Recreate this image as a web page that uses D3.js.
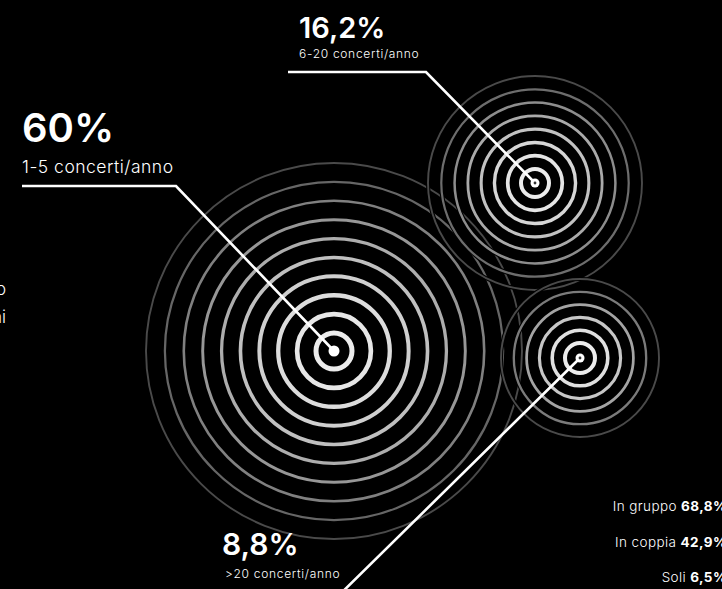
<!DOCTYPE html>
<html>
<head>
<meta charset="utf-8">
<script src="https://cdn.jsdelivr.net/npm/d3@7"></script>
<style>
  html, body { margin: 0; padding: 0; background: #000; overflow: hidden; }
  svg { display: block; font-family: Inter, "Noto Sans", sans-serif; }
  .big  { fill: #fff; font-weight: 600; }
  .sub  { fill: #fff; font-weight: 300; }
  .side { fill: #fff; font-weight: 300; font-size: 13.5px; letter-spacing: 0.4px; }
  .side tspan.val { font-weight: 700; }
</style>
</head>
<body>
<div id="chart"></div>
<script>
// ── Data ─────────────────────────────────────────────────────────────────────
const shares     = ['60%', '16,2%', '8,8%'];
const frequency  = ['1-5 concerti/anno', '6-20 concerti/anno', '>20 concerti/anno'];
const ringCounts = [10, 8, 6];

const companyLabels = ['In gruppo', 'In coppia', 'Soli'];
const companyValues = ['68,8%', '42,9%', '6,5%'];

// text cut off at the left edge of the original
const introLines = ['Quanti concerti all\'anno', 'vedono gli italiani'];

// ── Layout (not data) ────────────────────────────────────────────────────────
const W = 722, H = 589;
const groups = [
  { cx: 334, cy: 351, rIn: 18, rOut: 188, dot: 5.5,
    label: { x: 22, y: 142, size: 40 }, sub: { y: 173, size: 17.5, ls: 0.5 },
    leader: [[22, 186], [176, 186]] },
  { cx: 535, cy: 183, rIn: 14, rOut: 107, dot: 4.5,
    label: { x: 299, y: 38, size: 29 }, sub: { y: 58, size: 12, ls: 0.7 },
    leader: [[288, 72], [426, 72]] },
  { cx: 580, cy: 358, rIn: 15, rOut: 79, dot: 4.5,
    label: { x: 222, y: 555, size: 30 }, sub: { y: 578, size: 12, ls: 0.7 },
    leader: [[290, 645], [324, 610]] }
];

const svg = d3.select('#chart').append('svg')
  .attr('width', W).attr('height', H);

svg.append('rect').attr('width', W).attr('height', H).attr('fill', '#000');

// ── Rings ────────────────────────────────────────────────────────────────────
const ringsG = svg.append('g');
groups.forEach((g, gi) => {
  const n = ringCounts[gi];
  const rScale = d3.scaleLinear().domain([0, n - 1]).range([g.rIn, g.rOut]);
  const wScale = d3.scaleLinear().domain([0, n - 1]).range([gi === 0 ? 5 : 4, 1.9]);
  // brightness falls slowly at first, faster toward the outer rings
  const grey = d3.scalePow().exponent(1.6).domain([0, n - 1]).range([236, 74]);
  const idx = d3.range(n).reverse();
  const gg = ringsG.append('g').attr('transform', `translate(${g.cx},${g.cy})`);
  idx.forEach(i => {
    // black halo to get the small gaps where rings cross
    gg.append('circle').attr('r', rScale(i))
      .attr('fill', 'none').attr('stroke', '#000')
      .attr('stroke-width', wScale(i) + 2.2);
    const v = Math.round(grey(i));
    gg.append('circle').attr('r', rScale(i))
      .attr('fill', 'none').attr('stroke', d3.rgb(v, v, v))
      .attr('stroke-width', wScale(i));
  });
});

// ── Leader lines ─────────────────────────────────────────────────────────────
const line = d3.line();
groups.forEach(g => {
  svg.append('path')
    .attr('d', line([...g.leader, [g.cx, g.cy]]))
    .attr('fill', 'none').attr('stroke', '#fff')
    .attr('stroke-width', 2.6).attr('stroke-linejoin', 'miter');
});

// centre dots
groups.forEach((g, gi) => {
  svg.append('circle').attr('cx', g.cx).attr('cy', g.cy).attr('r', g.dot).attr('fill', '#fff');
  if (gi > 0)
    svg.append('circle').attr('cx', g.cx).attr('cy', g.cy).attr('r', 1.4).attr('fill', '#333');
});

// ── Labels ───────────────────────────────────────────────────────────────────
groups.forEach((g, gi) => {
  svg.append('text').attr('class', 'big')
    .attr('x', g.label.x).attr('y', g.label.y)
    .attr('font-size', g.label.size)
    .text(shares[gi]);
  svg.append('text').attr('class', 'sub')
    .attr('x', g.label.x + (gi === 2 ? 3 : 0)).attr('y', g.sub.y)
    .attr('font-size', g.sub.size)
    .attr('letter-spacing', g.sub.ls)
    .text(frequency[gi]);
});

// ── Left intro (mostly off-canvas) ───────────────────────────────────────────
svg.append('g').selectAll('text')
  .data(introLines)
  .join('text')
    .attr('class', 'sub')
    .attr('x', 6)
    .attr('y', (d, i) => 295 + i * 28)
    .attr('text-anchor', 'end')
    .attr('font-size', 17)
    .text(d => d);

// ── Company stats, bottom right ──────────────────────────────────────────────
const yRow = d3.scalePoint().domain(companyLabels).range([511, 582]);
const rows = svg.append('g').selectAll('text')
  .data(companyLabels)
  .join('text')
    .attr('class', 'side')
    .attr('x', 727)
    .attr('y', d => yRow(d))
    .attr('text-anchor', 'end');
rows.append('tspan').text(d => d + ' ');
rows.append('tspan').attr('class', 'val').text((d, i) => companyValues[i]);
</script>
</body>
</html>
